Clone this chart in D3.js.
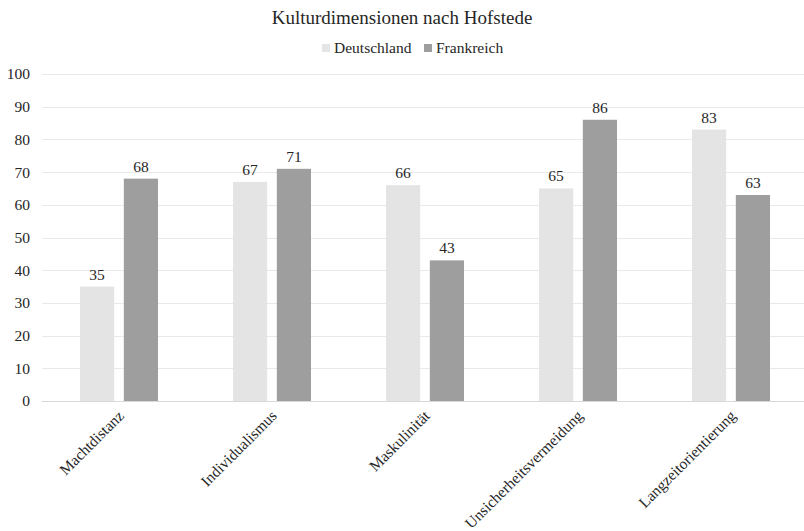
<!DOCTYPE html>
<html>
<head>
<meta charset="utf-8">
<script src="https://cdn.jsdelivr.net/npm/d3@7"></script>
<style>
  body { margin: 0; background: #fff; }
  text { font-family: "Liberation Serif", "Times New Roman", serif; fill: #262626; }
</style>
</head>
<body>
<script>
// data
var categories = ["Machtdistanz", "Individualismus", "Maskulinität", "Unsicherheitsvermeidung", "Langzeitorientierung"];
var seriesNames = ["Deutschland", "Frankreich"];
var deutschland = [35, 67, 66, 65, 83];
var frankreich = [68, 71, 43, 86, 63];
var yTicks = [0, 10, 20, 30, 40, 50, 60, 70, 80, 90, 100];
var colors = ["#e4e4e4", "#9e9e9e"];

var width = 804, height = 531;

var svg = d3.select("body").append("svg")
  .attr("width", width)
  .attr("height", height);

// scales
var x = d3.scaleBand()
  .domain(categories)
  .range([42.5, 807.5]);

var x1 = d3.scaleBand()
  .domain(seriesNames)
  .range([37.5, 115.5])
  .paddingInner(0.22);

var y = d3.scaleLinear()
  .domain([0, 100])
  .range([401, 74]);

// gridlines
svg.append("g")
  .selectAll("line")
  .data(yTicks)
  .enter().append("line")
  .attr("x1", 42)
  .attr("x2", 804)
  .attr("y1", function(d) { return Math.round(y(d)) + 0.5; })
  .attr("y2", function(d) { return Math.round(y(d)) + 0.5; })
  .attr("stroke", function(d) { return d === 0 ? "#d9d9d9" : "#e9e9e9"; })
  .attr("stroke-width", 1);

// y axis labels
var yAxis = d3.axisLeft(y).tickValues(yTicks).tickSize(0).tickPadding(0);
var gy = svg.append("g")
  .attr("transform", "translate(30,0)")
  .call(yAxis);
gy.select(".domain").remove();
gy.selectAll("text")
  .style("font-family", "'Liberation Serif', serif")
  .style("font-size", "15.5px")
  .attr("fill", "#262626");

// bars
var table = categories.map(function(c, i) {
  return { cat: c, values: [deutschland[i], frankreich[i]] };
});

var groups = svg.append("g")
  .selectAll("g")
  .data(table)
  .enter().append("g")
  .attr("transform", function(d) { return "translate(" + x(d.cat) + ",0)"; });

groups.selectAll("rect")
  .data(function(d) { return d.values.map(function(v, j) { return { name: seriesNames[j], v: v, j: j }; }); })
  .enter().append("rect")
  .attr("x", function(d) { return x1(d.name); })
  .attr("width", x1.bandwidth())
  .attr("y", function(d) { return y(d.v); })
  .attr("height", function(d) { return y(0) - y(d.v); })
  .attr("fill", function(d) { return colors[d.j]; });

groups.selectAll(".val")
  .data(function(d) { return d.values.map(function(v, j) { return { name: seriesNames[j], v: v }; }); })
  .enter().append("text")
  .attr("class", "val")
  .attr("x", function(d) { return x1(d.name) + x1.bandwidth() / 2; })
  .attr("y", function(d) { return y(d.v) - 7; })
  .attr("text-anchor", "middle")
  .style("font-size", "15.5px")
  .text(function(d) { return d.v; });

// x axis labels, rotated
var xAxis = d3.axisBottom(x).tickSize(0).tickPadding(0);
var gx = svg.append("g")
  .call(xAxis);
gx.select(".domain").remove();
gx.selectAll(".tick").attr("transform", function(d) { return "translate(" + (x(d) + x.bandwidth() / 2 + 2) + ",413)"; });
gx.selectAll("text")
  .attr("y", 0)
  .attr("dy", "0.35em")
  .attr("x", 0)
  .style("text-anchor", "end")
  .style("font-family", "'Liberation Serif', serif")
  .style("font-size", "15.5px")
  .attr("fill", "#262626")
  .attr("transform", "rotate(-45)");

// title
svg.append("text")
  .attr("x", 402)
  .attr("y", 24)
  .attr("text-anchor", "middle")
  .style("font-size", "19px")
  .text("Kulturdimensionen nach Hofstede");

// legend
var legendX = [322, 424];
var legend = svg.append("g")
  .selectAll("g")
  .data(seriesNames)
  .enter().append("g")
  .attr("transform", function(d, i) { return "translate(" + legendX[i] + ",44)"; });

legend.append("rect")
  .attr("width", 8)
  .attr("height", 8)
  .attr("fill", function(d, i) { return colors[i]; });

legend.append("text")
  .attr("x", 12)
  .attr("y", 8.5)
  .style("font-size", "15.5px")
  .text(function(d) { return d; });
</script>
</body>
</html>
